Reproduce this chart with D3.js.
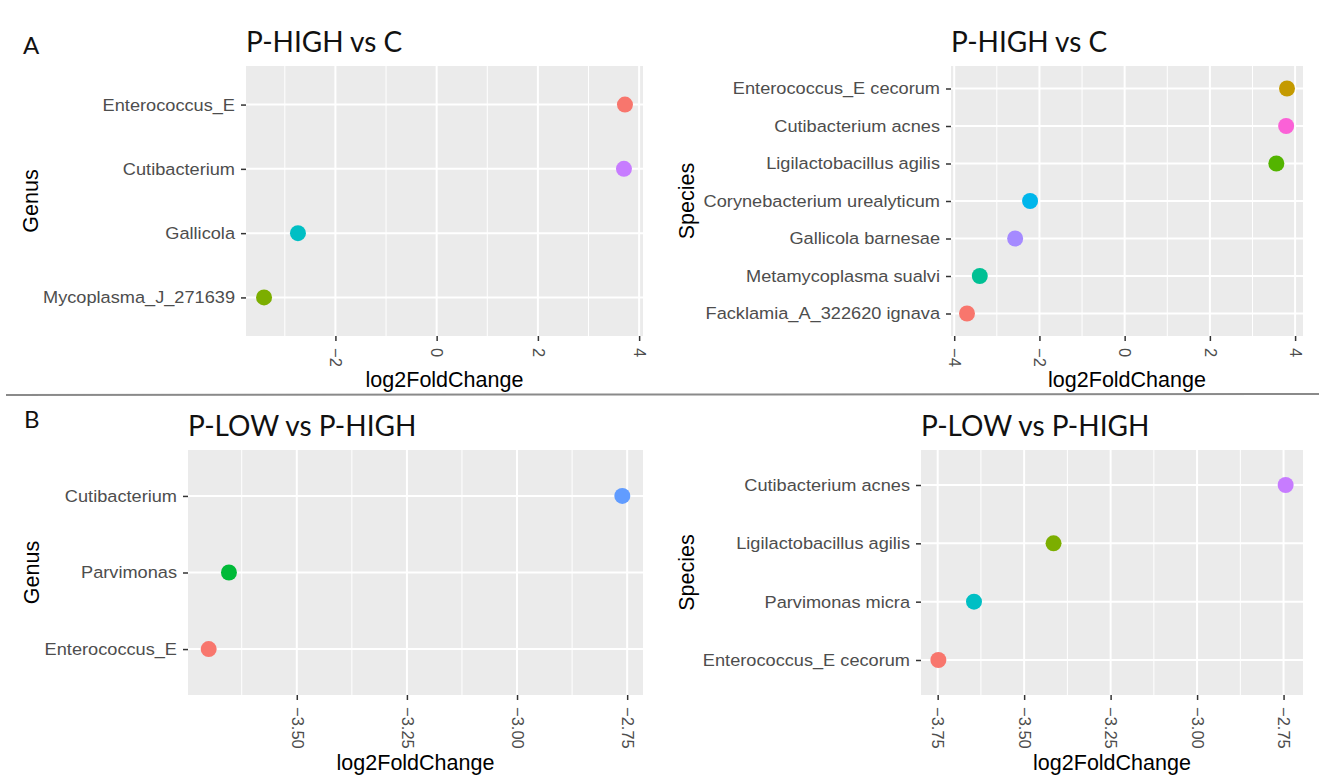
<!DOCTYPE html>
<html>
<head>
<meta charset="utf-8">
<script src="https://cdn.jsdelivr.net/npm/d3@7"></script>
<style>
  body { margin: 0; background: #fff; }
  svg { display: block; }
  .tick-lab { font-family: "Liberation Sans", Arial, sans-serif; font-size: 16.5px; fill: #4d4d4d; }
  .ytick-lab { font-family: "Liberation Sans", Arial, sans-serif; font-size: 17px; fill: #4d4d4d; }
  .ax-title { font-family: "Liberation Sans", Arial, sans-serif; font-size: 21.5px; fill: #000; }
  .plot-title { font-family: Lato, "Open Sans", sans-serif; font-size: 28px; fill: #111; }
  .tag { font-family: Lato, "Open Sans", sans-serif; font-size: 24px; fill: #111; }
</style>
</head>
<body>
<div id="chart"></div>
<script>
// data (log2FoldChange)
var genus_hc = ["Enterococcus_E", "Cutibacterium", "Gallicola", "Mycoplasma_J_271639"];
var genus_hc_lfc = [3.72, 3.70, -2.74, -3.41];
var genus_hc_col = ["#F8766D", "#C77CFF", "#00BFC4", "#7CAE00"];
var genus_hc_ticks = [-2, 0, 2, 4];

var species_hc = ["Enterococcus_E cecorum", "Cutibacterium acnes", "Ligilactobacillus agilis",
  "Corynebacterium urealyticum", "Gallicola barnesae", "Metamycoplasma sualvi", "Facklamia_A_322620 ignava"];
var species_hc_lfc = [3.81, 3.79, 3.56, -2.22, -2.57, -3.40, -3.70];
var species_hc_col = ["#C49A00", "#FB61D7", "#53B400", "#00B6EB", "#A58AFF", "#00C094", "#F8766D"];
var species_hc_ticks = [-4, -2, 0, 2, 4];

var genus_lh = ["Cutibacterium", "Parvimonas", "Enterococcus_E"];
var genus_lh_lfc = [-2.761, -3.654, -3.700];
var genus_lh_col = ["#619CFF", "#00BA38", "#F8766D"];
var genus_lh_ticks = [-3.50, -3.25, -3.00, -2.75];

var species_lh = ["Cutibacterium acnes", "Ligilactobacillus agilis", "Parvimonas micra", "Enterococcus_E cecorum"];
var species_lh_lfc = [-2.744, -3.415, -3.645, -3.748];
var species_lh_col = ["#C77CFF", "#7CAE00", "#00BFC4", "#F8766D"];
var species_lh_ticks = [-3.75, -3.50, -3.25, -3.00, -2.75];

var W = 1319, H = 778;
var stretch = 1.07; // source labels are slightly wider than Arial

var svg = d3.select("#chart").append("svg")
    .attr("width", W)
    .attr("height", H);

// panel layout (plot area in px)
var panels = [
  {cats: genus_hc, vals: genus_hc_lfc, cols: genus_hc_col, ticks: genus_hc_ticks, fmt: d3.format("d"),
   left: 246, right: 643, top: 66, bottom: 336, title: "P-HIGH vs C", ytitle: "Genus", ytx: 30, xtb: 387},
  {cats: species_hc, vals: species_hc_lfc, cols: species_hc_col, ticks: species_hc_ticks, fmt: d3.format("d"),
   left: 951, right: 1303, top: 66, bottom: 336, title: "P-HIGH vs C", ytitle: "Species", ytx: 686, xtb: 387},
  {cats: genus_lh, vals: genus_lh_lfc, cols: genus_lh_col, ticks: genus_lh_ticks, fmt: d3.format(".2f"),
   left: 188, right: 643, top: 450, bottom: 695, title: "P-LOW vs P-HIGH", ytitle: "Genus", ytx: 31, xtb: 770},
  {cats: species_lh, vals: species_lh_lfc, cols: species_lh_col, ticks: species_lh_ticks, fmt: d3.format(".2f"),
   left: 921, right: 1303, top: 450, bottom: 695, title: "P-LOW vs P-HIGH", ytitle: "Species", ytx: 686, xtb: 770}
];

panels.forEach(function(p) {
  var ext = d3.extent(p.vals), pad = (ext[1] - ext[0]) * 0.05;
  var x = d3.scaleLinear().domain([ext[0] - pad, ext[1] + pad]).range([p.left, p.right]);
  var y = d3.scalePoint().domain(p.cats).range([p.top, p.bottom]).padding(0.6);
  var dom = x.domain();

  // minor breaks: midpoints, one step beyond each end
  var step = p.ticks[1] - p.ticks[0];
  var minors = [p.ticks[0] - step / 2];
  p.ticks.forEach(function(t) { minors.push(t + step / 2); });
  minors = minors.filter(function(m) { return m > dom[0] && m < dom[1]; });

  var g = svg.append("g");

  g.append("rect")
      .attr("x", p.left).attr("y", p.top)
      .attr("width", p.right - p.left).attr("height", p.bottom - p.top)
      .attr("fill", "#ebebeb");

  g.selectAll(".minor").data(minors).enter().append("line")
      .attr("x1", function(d) { return x(d); }).attr("x2", function(d) { return x(d); })
      .attr("y1", p.top).attr("y2", p.bottom)
      .attr("stroke", "#fff").attr("stroke-width", 1);

  g.selectAll(".vmajor").data(p.ticks).enter().append("line")
      .attr("x1", function(d) { return x(d); }).attr("x2", function(d) { return x(d); })
      .attr("y1", p.top).attr("y2", p.bottom)
      .attr("stroke", "#fff").attr("stroke-width", 2);

  g.selectAll(".hmajor").data(p.cats).enter().append("line")
      .attr("x1", p.left).attr("x2", p.right)
      .attr("y1", function(d) { return y(d); }).attr("y2", function(d) { return y(d); })
      .attr("stroke", "#fff").attr("stroke-width", 2);

  g.selectAll(".dot").data(p.cats).enter().append("circle")
      .attr("cx", function(d, i) { return x(p.vals[i]); })
      .attr("cy", function(d) { return y(d); })
      .attr("r", 8)
      .attr("fill", function(d, i) { return p.cols[i]; });

  // x axis
  var xa = g.append("g")
      .attr("transform", "translate(0," + p.bottom + ")")
      .call(d3.axisBottom(x).tickValues(p.ticks).tickFormat(p.fmt).tickSize(5).tickPadding(0));
  xa.select(".domain").remove();
  xa.selectAll(".tick line").attr("stroke", "#333").attr("stroke-width", 1.5);
  xa.selectAll(".tick text")
      .attr("class", "tick-lab")
      .attr("fill", null)
      .attr("text-anchor", "start")
      .attr("x", 0).attr("y", 0).attr("dy", "0.35em")
      .attr("transform", "translate(0,12) rotate(90)");

  // y axis
  var ya = g.append("g")
      .attr("transform", "translate(" + p.left + ",0)")
      .call(d3.axisLeft(y).tickSize(5).tickPadding(0));
  ya.select(".domain").remove();
  ya.selectAll(".tick line").attr("stroke", "#333").attr("stroke-width", 1.5);
  ya.selectAll(".tick text")
      .attr("class", "ytick-lab")
      .attr("fill", null)
      .attr("x", 0)
      .attr("transform", "translate(-11,0) scale(" + stretch + ",1)");

  // titles
  g.append("text")
      .attr("class", "plot-title")
      .attr("x", p.left).attr("y", p.top - 14)
      .text(p.title);

  g.append("text")
      .attr("class", "ax-title")
      .attr("text-anchor", "middle")
      .attr("x", (p.left + p.right) / 2).attr("y", p.xtb)
      .text("log2FoldChange");

  g.append("text")
      .attr("class", "ax-title")
      .attr("text-anchor", "middle")
      .attr("transform", "translate(" + p.ytx + "," + ((p.top + p.bottom) / 2) + ") rotate(-90)")
      .attr("dy", "0.35em")
      .text(p.ytitle);
});

// panel tags and divider
svg.append("text").attr("class", "tag").attr("x", 23).attr("y", 54).text("A");
svg.append("text").attr("class", "tag").attr("x", 24).attr("y", 428).text("B");

svg.append("line")
    .attr("x1", 6).attr("x2", W)
    .attr("y1", 395).attr("y2", 394)
    .attr("stroke", "#8a8a8a").attr("stroke-width", 2);
</script>
</body>
</html>
